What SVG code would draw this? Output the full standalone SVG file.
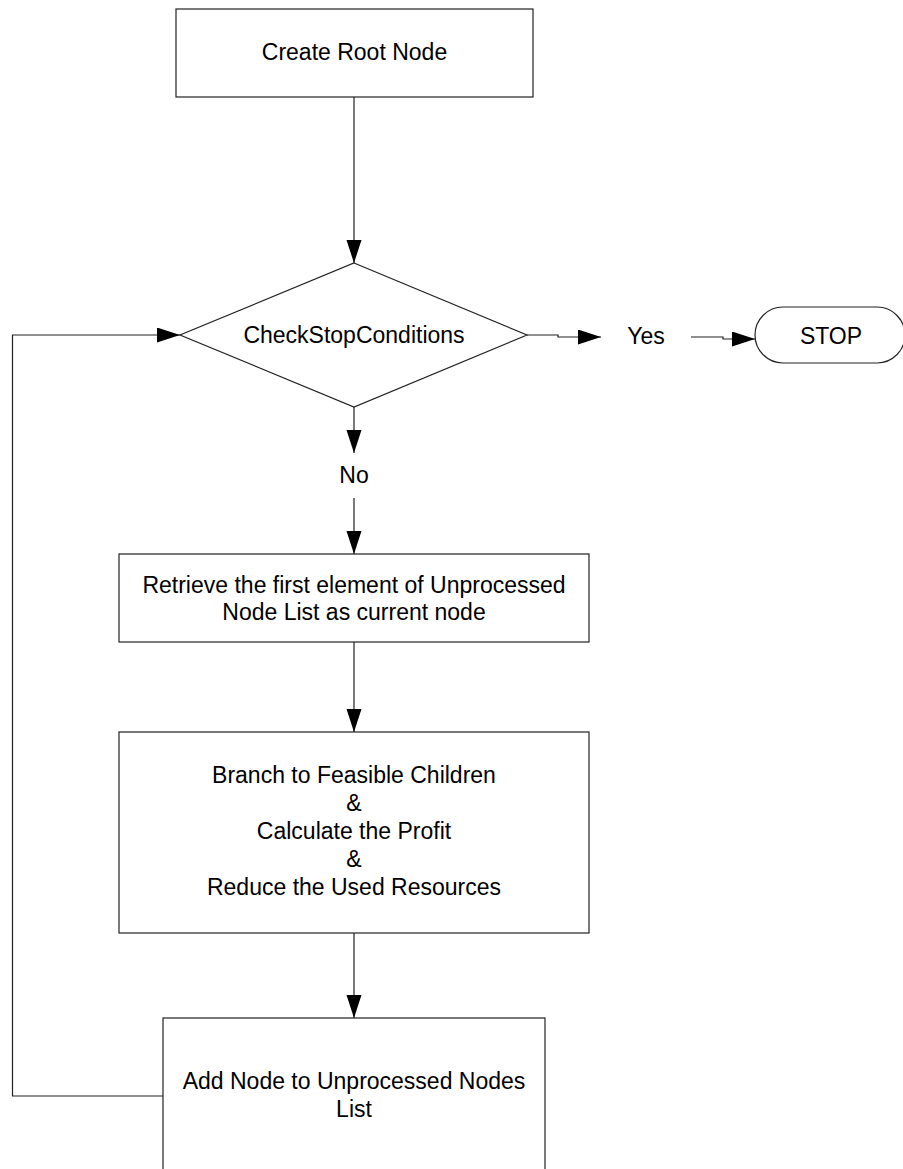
<svg xmlns="http://www.w3.org/2000/svg" width="903" height="1169" viewBox="0 0 903 1169">
  <style>
    .box { fill: #ffffff; stroke: #222222; stroke-width: 1.2; }
    .edge { fill: none; stroke: #222222; stroke-width: 1.2; }
    .label { font-family: "Liberation Sans", Arial, sans-serif; font-size: 23px; fill: #000000; text-anchor: middle; }
  </style>
  <defs>
    <marker id="arrow" markerUnits="userSpaceOnUse" markerWidth="24" markerHeight="16" refX="23" refY="7.5" orient="auto">
      <path d="M0,0 L23,7.5 L0,15 Z" fill="#000000"/>
    </marker>
  </defs>
  <rect width="903" height="1169" fill="#ffffff"/>

  <!-- connectors -->
  <g id="connectors">
    <path class="edge" d="M354,97 V263" marker-end="url(#arrow)"/>
    <path class="edge" d="M527,335 H558 V337 H601" marker-end="url(#arrow)"/>
    <path class="edge" d="M691,337 H723 V339 H755" marker-end="url(#arrow)"/>
    <path class="edge" d="M354,407 V453"  marker-end="url(#arrow)"/>
    <path class="edge" d="M354,498 V554" marker-end="url(#arrow)"/>
    <path class="edge" d="M354,642 V732" marker-end="url(#arrow)"/>
    <path class="edge" d="M354,933 V1018" marker-end="url(#arrow)"/>
    <path class="edge" d="M163,1096 H12.5 V335 H180" marker-end="url(#arrow)"/>
    <text class="label" x="646" y="344">Yes</text>
    <text class="label" x="354" y="483">No</text>
  </g>

  <g id="create-root">
    <rect class="box" x="176" y="9" width="357" height="88"/>
    <text class="label" x="354.5" y="60">Create Root Node</text>
  </g>

  <g id="check-stop">
    <polygon class="box" points="354,263 527,335 354,407 180,335"/>
    <text class="label" x="354" y="343">CheckStopConditions</text>
  </g>

  <g id="stop">
    <rect class="box" x="755" y="307" width="150" height="56" rx="28" ry="28"/>
    <text class="label" x="831" y="344">STOP</text>
  </g>

  <g id="retrieve">
    <rect class="box" x="119" y="554" width="470" height="88"/>
    <text class="label" x="354" y="593">Retrieve the first element of Unprocessed</text>
    <text class="label" x="354" y="620">Node List as current node</text>
  </g>

  <g id="branch">
    <rect class="box" x="119" y="732" width="470" height="201"/>
    <text class="label" x="354" y="783">Branch to Feasible Children</text>
    <text class="label" x="354" y="811">&amp;</text>
    <text class="label" x="354" y="839">Calculate the Profit</text>
    <text class="label" x="354" y="867">&amp;</text>
    <text class="label" x="354" y="895">Reduce the Used Resources</text>
  </g>

  <g id="add-node">
    <rect class="box" x="163" y="1018" width="382" height="170"/>
    <text class="label" x="354" y="1089">Add Node to Unprocessed Nodes</text>
    <text class="label" x="354" y="1117">List</text>
  </g>
</svg>
